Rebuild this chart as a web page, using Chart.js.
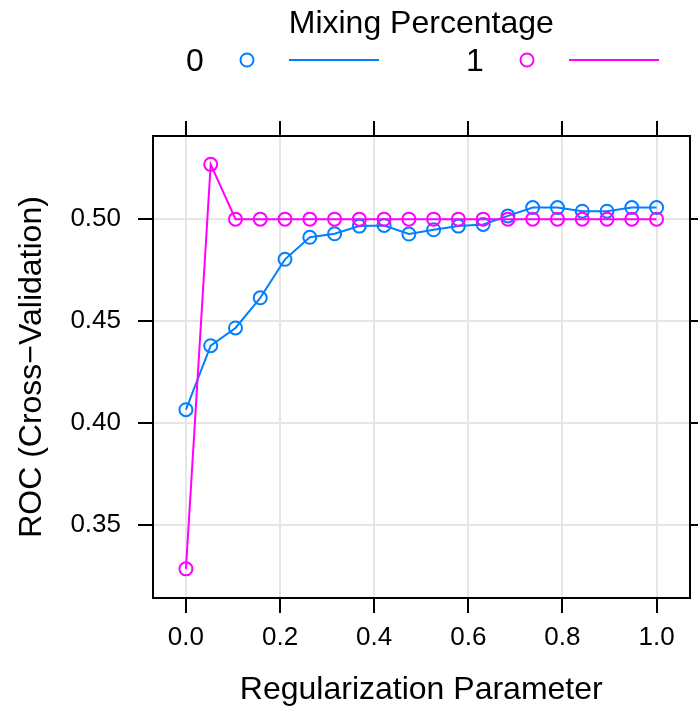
<!DOCTYPE html>
<html>
<head>
<meta charset="utf-8">
<title>ROC vs Regularization Parameter</title>
<script src="https://cdn.jsdelivr.net/npm/chart.js@4.4.0/dist/chart.umd.min.js"></script>
<style>
  html, body { margin: 0; padding: 0; background: #fff; }
  canvas { display: block; }
</style>
</head>
<body>
<canvas id="rocChart" width="698" height="709"></canvas>
<script>
// tuning grid for the regularization parameter
const regParam = [0, 0.0526, 0.1053, 0.1579, 0.2105, 0.2632, 0.3158, 0.3684, 0.4211, 0.4737,
                  0.5263, 0.5789, 0.6316, 0.6842, 0.7368, 0.7895, 0.8421, 0.8947, 0.9474, 1];

// cross-validated ROC, one array per mixing percentage
const rocMix0 = [0.4065, 0.4379, 0.4466, 0.4614, 0.4803, 0.4911, 0.4928, 0.4966, 0.4969, 0.4927,
                 0.4948, 0.4966, 0.4974, 0.5016, 0.5057, 0.5057, 0.5039, 0.5039, 0.5057, 0.5057];
const rocMix1 = [0.3284, 0.5269, 0.5, 0.5, 0.5, 0.5, 0.5, 0.5, 0.5, 0.5,
                 0.5, 0.5, 0.5, 0.5, 0.5, 0.5, 0.5, 0.5, 0.5, 0.5];

const mixLabels = ["0", "1"];
const mixColors = ["#0080ff", "#ff00ff"];

const xTicks = [0, 0.2, 0.4, 0.6, 0.8, 1.0];
const yTicks = [0.35, 0.40, 0.45, 0.50];

const FONT = "'Liberation Sans', Arial, Helvetica, sans-serif";

function toPoints(ys) {
    return regParam.map((x, i) => ({ x: x, y: ys[i] }));
}

function setTicks(list) {
    return (scale) => { scale.ticks = list.map((v) => ({ value: v })); };
}

// key across the top: title, then label / symbol / line for each group
const keyPlugin = {
    id: "mixKey",
    afterDraw(chart) {
        const ctx = chart.ctx;
        const area = chart.chartArea;
        ctx.save();
        ctx.fillStyle = "#000";
        ctx.font = "32px " + FONT;
        ctx.textAlign = "center";
        ctx.textBaseline = "alphabetic";
        ctx.fillText("Mixing Percentage", (area.left + area.right) / 2, 33);

        const itemX = [195, 475];
        mixLabels.forEach((lab, i) => {
            const x0 = itemX[i];
            ctx.fillStyle = "#000";
            ctx.fillText(lab, x0, 71);
            ctx.strokeStyle = mixColors[i];
            ctx.lineWidth = 2;
            ctx.beginPath();
            ctx.arc(x0 + 52, 60, 6.5, 0, Math.PI * 2);
            ctx.stroke();
            ctx.beginPath();
            ctx.moveTo(x0 + 94, 60);
            ctx.lineTo(x0 + 184, 60);
            ctx.stroke();
        });
        ctx.restore();
    },
};

const gridStyle = {
    color: "#e6e6e6",
    lineWidth: 2,
    tickColor: "#000",
    tickWidth: 2,
    tickLength: 15,
};
const borderStyle = { color: "#000", width: 2 };

const data = {
    datasets: mixLabels.map((lab, i) => ({
        label: lab,
        data: toPoints(i === 0 ? rocMix0 : rocMix1),
        borderColor: mixColors[i],
        backgroundColor: "rgba(0,0,0,0)",
        borderWidth: 2,
        pointRadius: 6.5,
        pointBorderWidth: 2,
        pointBackgroundColor: "rgba(0,0,0,0)",
        pointBorderColor: mixColors[i],
        tension: 0,
        order: 1 - i,
    })),
};

const options = {
    responsive: false,
    animation: false,
    events: [],
    layout: { padding: 0 },
    plugins: {
        legend: { display: false },
        tooltip: { enabled: false },
    },
    scales: {
        x: {
            type: "linear",
            position: "bottom",
            min: -0.07,
            max: 1.07,
            afterFit: (s) => { s.height = 111; },
            afterBuildTicks: setTicks(xTicks),
            grid: gridStyle,
            border: borderStyle,
            ticks: {
                color: "#000",
                font: { family: FONT, size: 26 },
                padding: 9,
                maxRotation: 0,
                autoSkip: false,
                callback: (v) => Number(v).toFixed(1),
            },
            title: {
                display: true,
                text: "Regularization Parameter",
                color: "#000",
                font: { family: FONT, size: 32 },
                padding: { top: 0, bottom: 0 },
            },
        },
        x2: {
            type: "linear",
            position: "top",
            min: -0.07,
            max: 1.07,
            afterFit: (s) => { s.height = 136; },
            afterBuildTicks: setTicks(xTicks),
            grid: Object.assign({}, gridStyle, { drawOnChartArea: false }),
            border: borderStyle,
            ticks: { display: false },
        },
        y: {
            type: "linear",
            position: "left",
            min: 0.3141,
            max: 0.5408,
            afterFit: (s) => { s.width = 153; },
            afterBuildTicks: setTicks(yTicks),
            grid: gridStyle,
            border: borderStyle,
            ticks: {
                color: "#000",
                font: { family: FONT, size: 26 },
                padding: 17,
                autoSkip: false,
                callback: (v) => Number(v).toFixed(2),
            },
            title: {
                display: true,
                text: "ROC (Cross−Validation)",
                color: "#000",
                font: { family: FONT, size: 32 },
                padding: { top: 13, bottom: 0 },
            },
        },
        y2: {
            type: "linear",
            position: "right",
            min: 0.3141,
            max: 0.5408,
            afterFit: (s) => { s.width = 6; },
            afterBuildTicks: setTicks(yTicks),
            grid: Object.assign({}, gridStyle, { drawOnChartArea: false }),
            border: borderStyle,
            ticks: { display: false },
        },
    },
};

new Chart(document.getElementById("rocChart"), {
    type: "line",
    data: data,
    options: options,
    plugins: [keyPlugin],
});
</script>
</body>
</html>
